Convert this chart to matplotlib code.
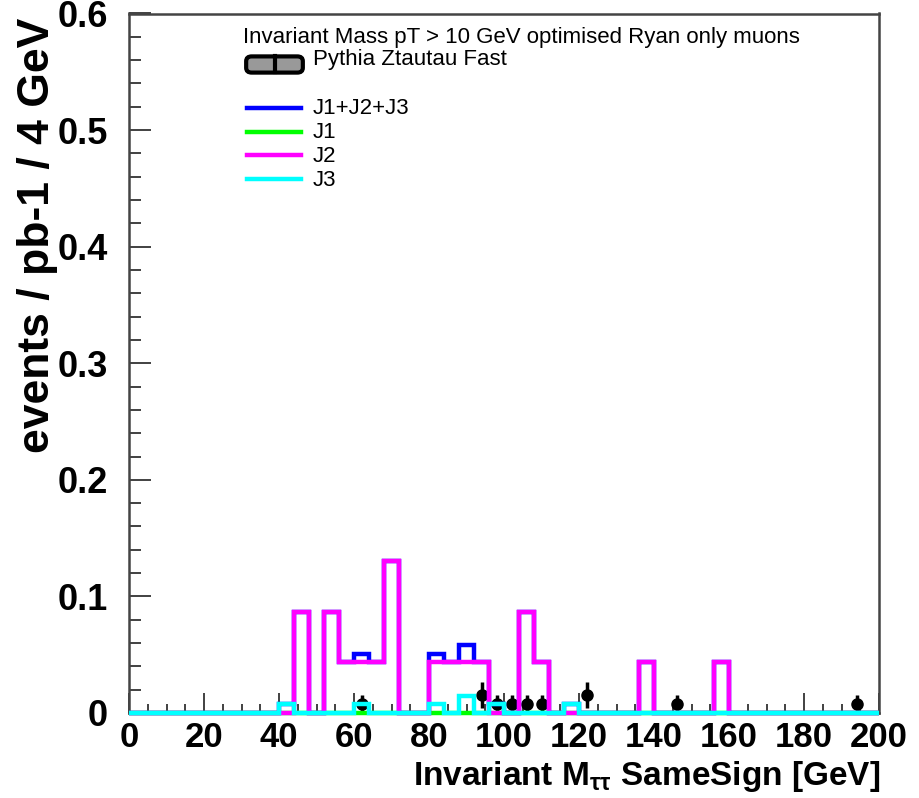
import numpy as np
import matplotlib
matplotlib.use('Agg')
from matplotlib import pyplot as plt
from matplotlib.lines import Line2D
from matplotlib.patches import FancyBboxPatch
from matplotlib.ticker import MultipleLocator, FixedLocator

plt.rcParams['font.family'] = ['Liberation Sans', 'DejaVu Sans']
plt.rcParams['mathtext.fontset'] = 'custom'
plt.rcParams['mathtext.rm'] = 'Liberation Sans:bold'
plt.rcParams['mathtext.it'] = 'Liberation Sans:bold'
plt.rcParams['mathtext.bf'] = 'Liberation Sans:bold'

#################################
# Data (4 GeV bins, 0-200 GeV)
edges = np.arange(0, 201, 4)

j1_lo = []
j1_val = []

j2_lo = [44, 52, 56, 60, 64, 68, 80, 84, 88, 92, 104, 108, 136, 156]
j2_val = [0.087, 0.087, 0.0435, 0.0435, 0.0435, 0.13, 0.0435, 0.0435,
          0.0435, 0.0435, 0.087, 0.0435, 0.0435, 0.0435]

j3_lo = [40, 60, 80, 88, 96, 116]
j3_val = [0.0073, 0.0073, 0.0073, 0.0146, 0.0073, 0.0073]

pythia_x = [62, 94, 98, 102, 106, 110, 122, 146, 194]
pythia_y = [0.0078, 0.0156, 0.0078, 0.0078, 0.0078, 0.0078, 0.0156, 0.0078, 0.0078]
pythia_err = [0.0078, 0.011, 0.0078, 0.0078, 0.0078, 0.0078, 0.011, 0.0078, 0.0078]

series_names = ['J1+J2+J3', 'J1', 'J2', 'J3']
series_colors = ['#0000ff', '#00ff00', '#ff00ff', '#00ffff']
#################################


def binned(lo, val):
    h, _ = np.histogram(np.asarray(lo, dtype=float) + 2, bins=edges,
                        weights=np.asarray(val, dtype=float))
    return h

h_j1 = binned(j1_lo, j1_val)
h_j2 = binned(j2_lo, j2_val)
h_j3 = binned(j3_lo, j3_val)
h_sum = h_j1 + h_j2 + h_j3
hists = [h_sum, h_j1, h_j2, h_j3]

#################################
# Make figure
tk_fs = 25
lb_fs = 24
lg_fs = 16

fig = plt.figure(figsize=[9.19, 7.98], dpi=100)
ax = fig.add_axes([129/919., 1-713/798., 750/919., 699.5/798.])

# data points (drawn under the histograms, as in the original)
ax.errorbar(pythia_x, pythia_y, yerr=pythia_err, fmt='o', color='k',
            ms=8, elinewidth=2.5, capsize=0, zorder=2, clip_on=False)

for h, c in zip(hists, series_colors):
    ax.stairs(h, edges, baseline=0, color=c, lw=3.2, zorder=3, clip_on=False)

ax.set_xlim(0, 200)
ax.set_ylim(0, 0.6)

ax.xaxis.set_major_locator(MultipleLocator(20))
ax.xaxis.set_minor_locator(MultipleLocator(5))
ax.yaxis.set_major_locator(FixedLocator([0, 0.1, 0.2, 0.3, 0.4, 0.5, 0.6]))
ax.yaxis.set_minor_locator(MultipleLocator(0.02))
ax.set_yticklabels(['0', '0.1', '0.2', '0.3', '0.4', '0.5', '0.6'])

ax.tick_params(axis='both', which='both', direction='in', top=False, right=False,
               colors='#333333', labelcolor='k')
ax.tick_params(axis='x', which='major', length=14.5, width=1.3, labelsize=tk_fs, pad=6)
ax.tick_params(axis='x', which='minor', length=6.5, width=1.3)
ax.tick_params(axis='y', which='major', length=16, width=1.3, labelsize=26, pad=15)
ax.tick_params(axis='y', which='minor', length=8.5, width=1.3)
for lab in ax.get_xticklabels() + ax.get_yticklabels():
    lab.set_fontweight('bold')

for s in ax.spines.values():
    s.set_color('#444444')
    s.set_linewidth(1.8)

fig.text(880/919., 1-776/798., r'Invariant M$_{\tau\tau}$ SameSign [GeV]',
         ha='right', va='center', fontsize=lb_fs, fontweight='bold')
fig.text(38/919., 1-18/798., 'events / pb-1 / 4 GeV', rotation=90,
         ha='center', va='top', fontsize=32, fontweight='bold')

# legend
fig.text(243/919., 1-38/798., 'Invariant Mass pT > 10 GeV optimised Ryan only muons',
         ha='left', va='center', fontsize=lg_fs)
box = FancyBboxPatch((248/919., 1-71/798.), 53/919., 13/798.,
                     boxstyle='round,pad=0.002,rounding_size=0.006',
                     transform=fig.transFigure, facecolor='#999999',
                     edgecolor='k', lw=3)
fig.add_artist(box)
fig.add_artist(Line2D([275/919., 275/919.], [1-72/798., 1-56/798.],
                      transform=fig.transFigure, color='k', lw=3))
fig.text(313/919., 1-60/798., 'Pythia Ztautau Fast', ha='left', va='center',
         fontsize=lg_fs)

y0 = 108
for i, (name, c) in enumerate(zip(series_names, series_colors)):
    yy = 1 - (y0 + i*23.7)/798.
    fig.add_artist(Line2D([247/919., 301/919.], [yy, yy],
                          transform=fig.transFigure, color=c, lw=3.2))
    fig.text(313/919., yy - 1/798., name, ha='left', va='center', fontsize=lg_fs)

plt.savefig('out.png', dpi=100)
#################################
